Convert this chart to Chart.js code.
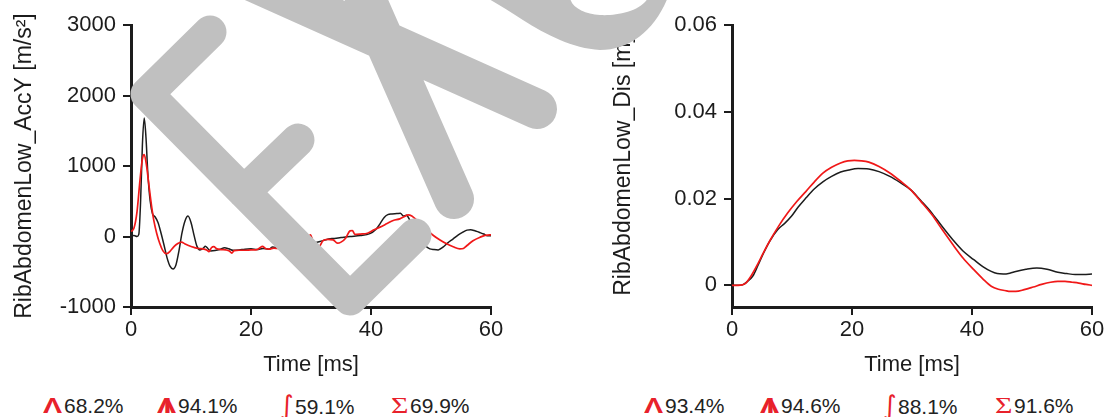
<!DOCTYPE html>
<html>
<head>
<meta charset="utf-8">
<script src="https://cdn.jsdelivr.net/npm/chart.js@4.4.1/dist/chart.umd.min.js"></script>
<style>
  html, body { margin: 0; padding: 0; background: #fff; width: 1109px; height: 417px; overflow: hidden; }
  body { position: relative; font-family: 'Liberation Sans', Arial, sans-serif; }
  .box { position: absolute; top: 0; height: 390px; }
  #boxAcc { left: 0; width: 560px; }
  #boxDis { left: 560px; width: 549px; }
  .stat { position: absolute; top: 395px; font-size: 21px; line-height: 21px; color: #222; white-space: nowrap; }
  .sym { color: #e8212b; display: inline-block; position: relative; }
  .caret { font-weight: bold; font-size: 22px; transform: scaleX(1.3); transform-origin: left center; width: 21px; }
  .stem { position: absolute; left: 5px; top: 0; font-weight: bold; }
  .integral { font-family: 'DejaVu Sans', sans-serif; font-size: 26px; width: 15px; }
  .sigma { font-family: 'Liberation Serif', serif; font-size: 24px; transform: scaleX(1.25); transform-origin: left center; width: 19px; }
</style>
</head>
<body>
<div class="box" id="boxAcc"><canvas id="acc" width="560" height="390"></canvas></div>
<div class="box" id="boxDis"><canvas id="dis" width="549" height="390"></canvas></div>
<div id="footer"></div>
<script>
// ---- RibAbdomenLow_AccY: time [ms] and acceleration [m/s²] ----
const accTimeTest = [0, 0.5, 1.0, 1.3, 1.6, 1.9, 2.2, 2.5, 2.8, 3.2, 3.6, 4.0, 4.5, 5.0, 5.5, 6.0, 6.5, 7.0, 7.5, 8.0, 8.5, 9.0, 9.5, 10.0, 10.5, 11.0, 11.5, 12.0, 12.4, 12.8, 13.3, 14.0, 14.8, 15.6, 16.3, 17.0, 18.0, 19.0, 20.0, 21.0, 22.0, 23.0, 23.6, 24.5, 25.5, 27.0, 28.5, 29.5, 30.4, 31.5, 32.5, 33.5, 35.0, 36.5, 38.2, 39.8, 40.8, 41.5, 42.2, 42.8, 43.5, 44.3, 44.9, 45.4, 45.9, 46.5, 47.5, 48.5, 49.3, 49.8, 50.5, 51.2, 52.0, 52.8, 53.7, 54.5, 55.3, 56.0, 56.6, 57.2, 58.0, 58.8, 59.4, 60.0];
const accTest = [10, 15, 0, 30, 500, 1300, 1680, 1400, 900, 500, 320, 280, 200, 50, -120, -300, -420, -460, -400, -200, 50, 220, 290, 200, 20, -140, -190, -170, -140, -170, -205, -200, -185, -160, -175, -195, -190, -180, -175, -185, -170, -180, -150, -160, -150, -130, -110, -95, -90, -70, -45, -30, -15, 0, 14, 40, 100, 180, 270, 310, 320, 325, 330, 290, 300, 230, 80, -60, -150, -175, -185, -190, -150, -90, -33, 20, 60, 90, 95, 85, 60, 35, 10, 10];

const accTimeSim = [0, 0.5, 1.0, 1.5, 1.9, 2.2, 2.6, 3.0, 3.4, 3.8, 4.3, 4.8, 5.3, 5.9, 6.5, 7.2, 7.8, 8.4, 9.0, 9.8, 10.5, 11.2, 12.0, 12.6, 13.0, 13.4, 13.8, 14.3, 15.0, 15.8, 16.4, 16.8, 17.2, 18.0, 19.0, 20.0, 21.0, 21.5, 21.9, 22.4, 23.0, 23.8, 24.5, 25.5, 27.0, 28.5, 29.3, 29.9, 30.4, 30.9, 31.5, 32.0, 32.8, 33.7, 34.4, 35.0, 35.8, 36.5, 36.9, 37.3, 38.2, 39.4, 40.5, 41.5, 42.6, 43.7, 44.8, 45.5, 46.2, 46.8, 47.5, 48.2, 49.3, 50.4, 51.5, 52.6, 53.7, 54.8, 55.4, 56.0, 57.0, 58.2, 59.0, 59.8, 60.0];
const accSim = [70, 120, 350, 800, 1100, 1160, 1000, 720, 450, 230, 40, -100, -200, -245, -210, -140, -100, -80, -105, -135, -155, -170, -175, -190, -215, -160, -145, -175, -185, -190, -205, -235, -200, -195, -195, -190, -185, -160, -140, -170, -180, -165, -170, -175, -170, -150, -60, 24, -90, -175, -130, -60, -40, -47, -95, -80, -20, 80, 85, 30, 35, 47, 95, 133, 180, 228, 250, 280, 308, 290, 240, 180, 95, 14, -50, -104, -145, -175, -170, -128, -60, -9, 15, 24, 24];

// ---- RibAbdomenLow_Dis: time [ms] and displacement [m] ----
const disTimeTest = [0, 1, 1.75, 2.5, 3.5, 4.3, 5.25, 6.3, 7.6, 8.8, 9.9, 11, 12.3, 13.7, 15.2, 16.6, 18.1, 19.5, 21, 22.8, 24.5, 26.3, 28, 29.8, 31.5, 33.3, 35, 36.8, 38.5, 40.3, 41.8, 43.2, 44.2, 45.2, 46.3, 47.3, 49, 50.8, 52.5, 54.3, 55.8, 57.2, 58.6, 60];
const disTest = [0, 0, 0.0001, 0.0008, 0.0022, 0.0045, 0.0074, 0.0102, 0.0128, 0.0143, 0.0159, 0.018, 0.0201, 0.0222, 0.0239, 0.0251, 0.0261, 0.0266, 0.0269, 0.0268, 0.0262, 0.0251, 0.0237, 0.022, 0.0195, 0.0167, 0.0136, 0.0105, 0.0079, 0.0059, 0.0043, 0.0032, 0.0027, 0.0026, 0.0028, 0.0032, 0.0037, 0.004, 0.0037, 0.003, 0.0027, 0.0025, 0.0025, 0.0026];

const disTimeSim = [0, 1, 1.7, 2.3, 3.2, 4.1, 5.2, 6.4, 7.8, 9.3, 10.8, 12.3, 13.7, 15.2, 16.6, 18.1, 19.3, 20.4, 21.6, 22.8, 24.5, 26.3, 28, 29.8, 31.5, 33.3, 35, 36.8, 38.5, 40.3, 41.8, 43.2, 44.4, 45.5, 46.4, 47.3, 48.7, 50.2, 51.6, 53.1, 54.3, 55.5, 56.7, 57.8, 59, 60];
const disSim = [0, 0, 0.0001, 0.0005, 0.0022, 0.0044, 0.0074, 0.0105, 0.0137, 0.0167, 0.0193, 0.0216, 0.0238, 0.0259, 0.0272, 0.0282, 0.0287, 0.0288, 0.0287, 0.0284, 0.0274, 0.0259, 0.0241, 0.022, 0.0193, 0.0163, 0.0129, 0.0094, 0.0063, 0.0036, 0.0015, -0.0002, -0.0009, -0.0012, -0.0014, -0.0014, -0.001, -0.0004, 0.0002, 0.0007, 0.0009, 0.0009, 0.0007, 0.0005, 0.0002, 0];

// ---- axis ticks ----
const timeTicks = [0, 20, 40, 60];
const accTicks = [-1000, 0, 1000, 2000, 3000];
const disTicks = [0, 0.02, 0.04, 0.06];

// ---- rating scores shown under each chart ----
const accScores = ['68.2%', '94.1%', '59.1%', '69.9%'];
const disScores = ['93.4%', '94.6%', '88.1%', '91.6%'];

const INK = '#1c1c1c';
const SIM_RED = '#f01818';
const FONT = "'Liberation Sans', Arial, sans-serif";

const toPoints = (xs, ys) => xs.map((x, i) => ({ x, y: ys[i] }));

// Large grey diagonal stamp drawn on top of both plots, in page coordinates.
const stampPlugin = {
  id: 'stamp',
  afterDraw(chart, args, opts) {
    const ctx = chart.ctx;
    ctx.save();
    ctx.translate(-opts.offsetX, 0);
    ctx.strokeStyle = '#c0c0c0';
    ctx.fillStyle = '#c0c0c0';
    ctx.lineCap = 'round';
    ctx.lineJoin = 'round';
    // E
    ctx.lineWidth = 33;
    ctx.beginPath();
    ctx.moveTo(210, 32); ctx.lineTo(147, 94); ctx.lineTo(350, 299); ctx.lineTo(415, 235);
    ctx.moveTo(244, 192); ctx.lineTo(298, 140);
    ctx.stroke();
    // X
    ctx.lineWidth = 40;
    ctx.beginPath();
    ctx.moveTo(200, -42); ctx.lineTo(537, 109);
    ctx.moveTo(340, -60); ctx.lineTo(454, 199);
    ctx.stroke();
    // lower part of the bowl of the next letter
    ctx.beginPath();
    ctx.moveTo(478, -10);
    ctx.lineTo(485, -3);
    ctx.bezierCurveTo(515, 12, 555, 48, 600, 50);
    ctx.bezierCurveTo(630, 50, 655, 30, 668, -3);
    ctx.lineTo(670, -10);
    ctx.lineTo(648, -10);
    ctx.lineTo(648, -2);
    ctx.bezierCurveTo(640, 12, 615, 16, 600, 15);
    ctx.bezierCurveTo(585, 14, 572, 8, 570, -2);
    ctx.lineTo(570, -10);
    ctx.closePath();
    ctx.fill();
    ctx.restore();
  }
};

function makeChart(id, cfg) {
  return new Chart(document.getElementById(id), {
    type: 'line',
    data: {
      datasets: [
        { data: toPoints(cfg.simT, cfg.simY), borderColor: SIM_RED, borderWidth: 1.7 },
        { data: toPoints(cfg.testT, cfg.testY), borderColor: INK, borderWidth: 1.5 }
      ]
    },
    options: {
      responsive: false,
      animation: false,
      events: [],
      elements: { point: { radius: 0 }, line: { cubicInterpolationMode: 'monotone', fill: false } },
      layout: { padding: { top: 25, left: 0, right: cfg.padRight, bottom: 0 } },
      plugins: { legend: { display: false }, tooltip: { enabled: false }, stamp: { offsetX: cfg.offsetX } },
      scales: {
        x: {
          type: 'linear', min: 0, max: 60,
          afterFit: s => { s.height = 83; },
          afterBuildTicks: s => { s.ticks = timeTicks.map(v => ({ value: v })); },
          border: { display: true, color: INK, width: 3 },
          grid: { drawOnChartArea: false, drawTicks: true, tickLength: 8, color: INK, lineWidth: 2 },
          ticks: { color: INK, padding: 2, font: { family: FONT, size: 22 }, callback: v => String(v), maxRotation: 0 },
          title: { display: true, text: 'Time [ms]', color: INK, font: { family: FONT, size: 22 }, padding: { top: 0, bottom: 12 } }
        },
        y: {
          type: 'linear', min: cfg.yMin, max: cfg.yMax,
          afterFit: s => { s.width = cfg.yWidth; },
          afterBuildTicks: s => { s.ticks = cfg.yTicks.map(v => ({ value: v })); },
          border: { display: true, color: INK, width: 3 },
          grid: { drawOnChartArea: false, drawTicks: true, tickLength: 8, color: INK, lineWidth: 2 },
          ticks: { color: INK, padding: 7, font: { family: FONT, size: 22 }, callback: cfg.yFormat },
          title: { display: true, text: cfg.yTitle, color: INK, font: { family: FONT, size: 23 }, padding: { top: cfg.titlePad, bottom: 0 } }
        }
      }
    },
    plugins: [stampPlugin]
  });
}

makeChart('acc', {
  simT: accTimeSim, simY: accSim, testT: accTimeTest, testY: accTest,
  yMin: -1000, yMax: 3000, yTicks: accTicks, yFormat: v => String(v),
  yTitle: 'RibAbdomenLow_AccY [m/s²]', titlePad: 11,
  yWidth: 131, padRight: 69, offsetX: 0
});

makeChart('dis', {
  simT: disTimeSim, simY: disSim, testT: disTimeTest, testY: disTest,
  yMin: -0.005, yMax: 0.06, yTicks: disTicks, yFormat: v => (v === 0 ? '0' : v.toFixed(2)),
  yTitle: 'RibAbdomenLow_Dis [m]', titlePad: 50,
  yWidth: 172, padRight: 17, offsetX: 560
});

// ---- score row: peak, peak-time, integral and overall ratings ----
const symbolHtml = [
  '<span class="sym caret">Λ</span>',
  '<span class="sym caret">Λ<span class="stem">I</span></span>',
  '<span class="sym integral">∫</span>',
  '<span class="sym sigma">Σ</span>'
];
const footer = document.getElementById('footer');
function addScores(scores, starts) {
  scores.forEach((txt, i) => {
    const d = document.createElement('div');
    d.className = 'stat';
    d.style.left = starts[i] + 'px';
    d.innerHTML = symbolHtml[i] + txt;
    footer.appendChild(d);
  });
}
addScores(accScores, [43, 157, 280, 391]);
addScores(disScores, [644, 760, 883, 995]);
</script>
</body>
</html>
